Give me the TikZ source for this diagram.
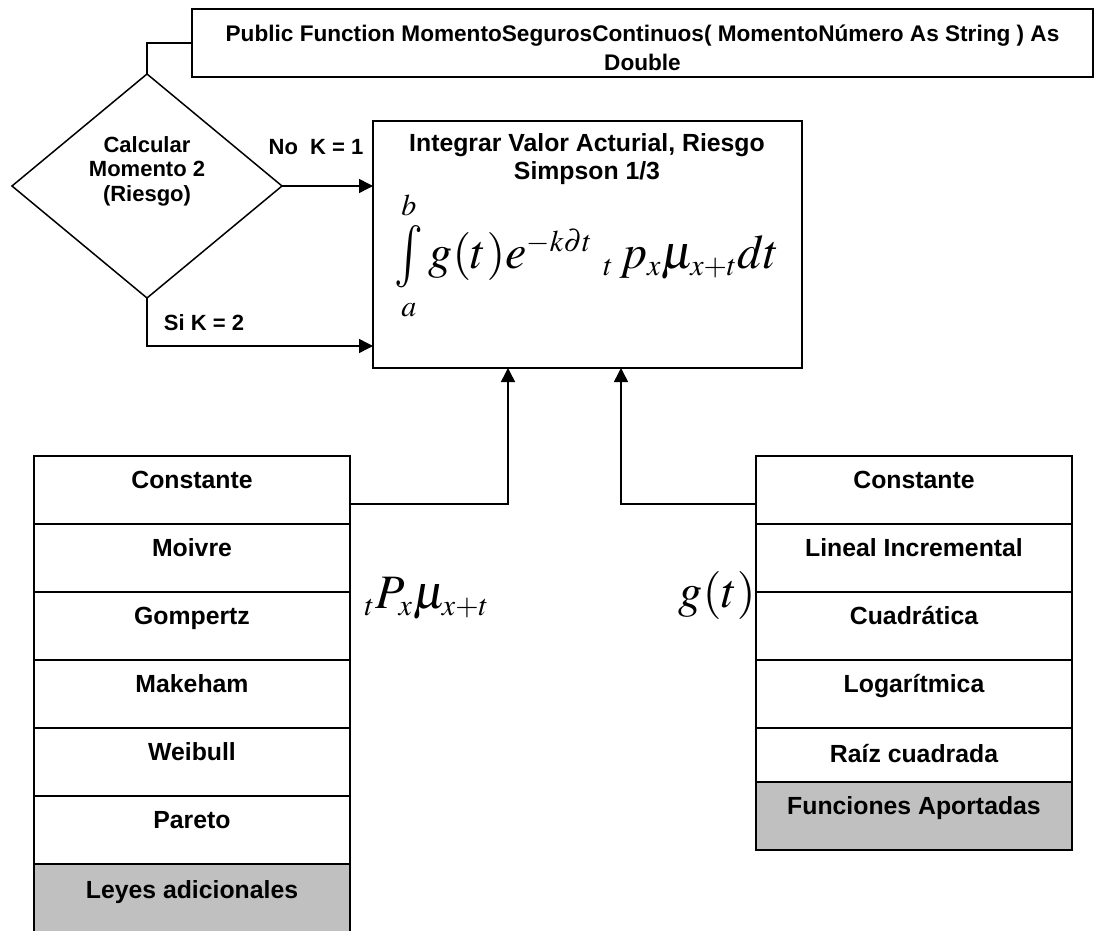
\documentclass[tikz,border=0pt]{standalone}
\usepackage{mathptmx}
\usepackage[no-math]{fontspec}
\setmainfont{Liberation Sans}
\DeclareMathSizes{24}{24}{15}{11}
\usepackage{tikz}
\usetikzlibrary{arrows.meta,positioning,shapes.geometric}
\definecolor{rowgrey}{HTML}{C0C0C0}

\begin{document}
\begin{tikzpicture}[x=0.5pt,y=-0.5pt,>={Triangle[length=7pt,width=7pt]},
  box/.style={draw,line width=0.9pt,inner sep=0pt,outer sep=0pt},
  row/.style={box,minimum width=158pt,minimum height=34pt,text height=9pt,text depth=10.1pt,font=\fontsize{12.4}{14}\selectfont\bfseries},
  lbl/.style={inner sep=0pt,font=\fontsize{11}{12.3}\selectfont\bfseries},
  frm/.style={inner sep=0pt,font=\fontsize{24}{28}\selectfont},
  conn/.style={line width=0.75pt}]
\useasboundingbox (0,0) rectangle (1097,931);
% header and decision
\node[box,minimum width=450.5pt,minimum height=34pt] (sig) at (642.5,43) {};
\node[align=center,inner sep=0pt,font=\fontsize{11.3}{14.5}\selectfont\bfseries] (sigTxt) at (642.5,47.5) {Public Function MomentoSegurosContinuos( MomentoNúmero As String ) As\\Double};
\node[draw,diamond,line width=0.75pt,minimum width=135pt,minimum height=112pt,inner sep=0pt,outer sep=0pt] (dec) at (147,186) {};
\node[lbl,align=center] (decTxt) at (147,171) {Calcular\\Momento 2\\(Riesgo)};
% integral box
\node[box,minimum width=214.5pt,minimum height=123.5pt] (integ) at (587.5,244.5) {};
\node[align=center,inner sep=0pt,font=\fontsize{12.4}{14}\selectfont\bfseries] (integTit) at (587,159) {Integrar Valor Acturial, Riesgo\\Simpson 1/3};
\node[frm] (integFor) at (587,256) {$\mathop{\vcenter{\hbox{\scalebox{1}[1.3]{$\int$}}}}\limits_a^b g(t)e^{-k\partial t}\;{}_t\,p_x\mu_{x+t}dt$};
% mortality laws and benefit functions
\foreach \txt [count=\i] in {Constante,Moivre,Gompertz,Makeham,Weibull,Pareto}
  \node[row] (ley\i) at (192,{422+68*\i}) {\txt};
\node[row,fill=rowgrey,minimum height=36pt] (ley7) at (192,900) {Leyes adicionales};
\foreach \txt [count=\i] in {Constante,Lineal Incremental,Cuadrática,Logarítmica}
  \node[row] (fun\i) at (914,{422+68*\i}) {\txt};
\node[row,minimum height=27pt,text depth=1.4pt] (fun5) at (914,755) {Raíz cuadrada};
\node[row,fill=rowgrey] (fun6) at (914,816) {Funciones Aportadas};
\node[frm] (pmu) at (427,598) {${}_tP_x\mu_{x+t}$};
\node[frm,anchor=east] (gt) at (756,595) {$g(t)$};
% connectors
\draw[conn] (sig.west) -| (dec.north);
\draw[conn,->] (dec.east) -- (dec.east -| integ.west);
\draw[conn,->] (dec.south) |- ([yshift=11pt]integ.south west);
\node[lbl] (no) at (316,147) {No\ \ K = 1};
\node[lbl] (si) at (204,323) {Si K = 2};
\draw[conn,->] ([yshift=-7pt]ley1.east) -| ([xshift=-39.75pt]integ.south);
\draw[conn,->] ([yshift=-7pt]fun1.west) -| ([xshift=16.75pt]integ.south);
\end{tikzpicture}
\end{document}
